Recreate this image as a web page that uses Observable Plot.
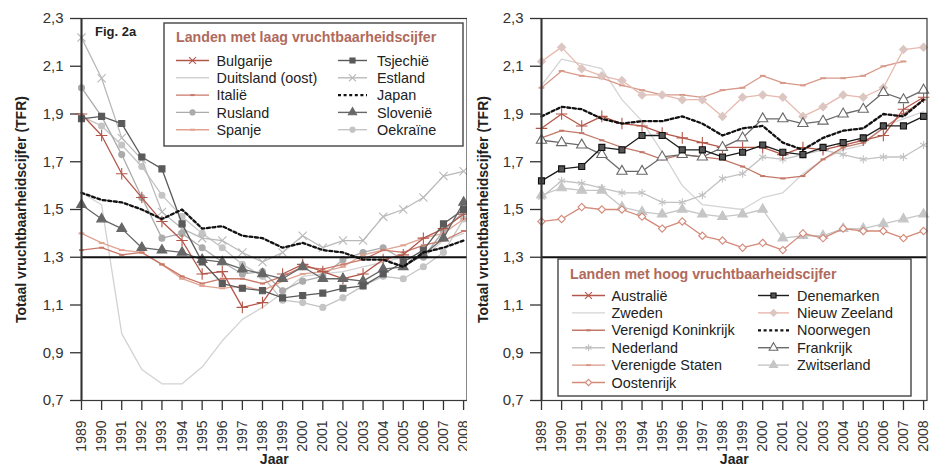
<!DOCTYPE html>
<html><head><meta charset="utf-8">
<script src="https://cdn.jsdelivr.net/npm/d3@7"></script>
<script src="https://cdn.jsdelivr.net/npm/@observablehq/plot@0.6"></script>
<style>
body{margin:0;background:#fff;}
#wrap{position:relative;width:934px;height:468px;overflow:hidden;font-family:"Liberation Sans",Arial,sans-serif;background:#fff;}
.panel{position:absolute;top:0;}
#overlay{position:absolute;left:0;top:0;pointer-events:none;}
</style></head><body><div id="wrap"></div>
<script>
// ---------- data ----------
const years = [1989,1990,1991,1992,1993,1994,1995,1996,1997,1998,1999,2000,2001,2002,2003,2004,2005,2006,2007,2008];
const yTicks = [0.7,0.9,1.1,1.3,1.5,1.7,1.9,2.1,2.3];
const threshold = [1.3];

// Landen met laag vruchtbaarheidscijfer
const bulgarije     = [1.90,1.81,1.65,1.55,1.45,1.37,1.23,1.24,1.09,1.11,1.23,1.27,1.24,1.21,1.23,1.29,1.31,1.38,1.42,1.48];
const duitslandOost = [1.57,1.52,0.98,0.83,0.77,0.77,0.84,0.95,1.04,1.09,1.15,1.22,1.23,1.24,1.26,1.28,1.30,1.30,1.37,1.40];
const italie        = [1.33,1.34,1.31,1.32,1.27,1.22,1.19,1.21,1.21,1.19,1.22,1.26,1.25,1.27,1.29,1.33,1.32,1.35,1.37,1.41];
const rusland       = [2.01,1.89,1.73,1.55,1.38,1.40,1.34,1.28,1.23,1.24,1.16,1.20,1.22,1.29,1.32,1.34,1.29,1.30,1.41,1.49];
const spanje        = [1.40,1.36,1.33,1.32,1.27,1.21,1.18,1.17,1.18,1.16,1.20,1.23,1.24,1.26,1.31,1.33,1.35,1.38,1.40,1.46];
const tsjechie      = [1.88,1.89,1.86,1.72,1.67,1.44,1.28,1.19,1.17,1.16,1.13,1.14,1.15,1.17,1.18,1.23,1.28,1.33,1.44,1.50];
const estland       = [2.22,2.05,1.80,1.71,1.49,1.42,1.38,1.37,1.32,1.28,1.32,1.39,1.34,1.37,1.37,1.47,1.50,1.55,1.64,1.66];
const japan         = [1.57,1.54,1.53,1.50,1.46,1.50,1.42,1.43,1.39,1.38,1.34,1.36,1.33,1.32,1.29,1.29,1.26,1.32,1.34,1.37];
const slovenie      = [1.52,1.46,1.42,1.34,1.33,1.32,1.29,1.28,1.25,1.23,1.21,1.26,1.21,1.21,1.20,1.25,1.26,1.31,1.38,1.53];
const oekraine      = [1.89,1.85,1.77,1.68,1.56,1.47,1.40,1.34,1.27,1.22,1.12,1.11,1.09,1.13,1.18,1.22,1.21,1.26,1.32,1.46];

// Landen met hoog vruchtbaarheidscijfer
const australie     = [1.84,1.90,1.85,1.89,1.86,1.85,1.82,1.80,1.78,1.76,1.76,1.76,1.73,1.76,1.75,1.77,1.79,1.81,1.92,1.97];
const zweden        = [2.02,2.13,2.11,2.09,1.96,1.87,1.74,1.60,1.52,1.51,1.50,1.55,1.57,1.65,1.71,1.75,1.77,1.85,1.88,1.91];
const verenigdKon   = [1.80,1.83,1.82,1.79,1.76,1.74,1.71,1.73,1.72,1.71,1.68,1.64,1.63,1.64,1.71,1.76,1.78,1.84,1.90,1.96];
const nederland     = [1.55,1.62,1.61,1.59,1.57,1.57,1.53,1.53,1.56,1.63,1.65,1.72,1.71,1.73,1.75,1.73,1.71,1.72,1.72,1.77];
const verenigdeSt   = [2.01,2.08,2.06,2.05,2.02,2.00,1.98,1.98,1.97,2.00,2.01,2.06,2.03,2.02,2.05,2.05,2.06,2.10,2.12,null];
const oostenrijk    = [1.45,1.46,1.51,1.50,1.50,1.47,1.42,1.45,1.39,1.37,1.34,1.36,1.33,1.40,1.38,1.42,1.41,1.41,1.38,1.41];
const denemarken    = [1.62,1.67,1.68,1.76,1.75,1.81,1.81,1.75,1.75,1.72,1.74,1.77,1.74,1.73,1.76,1.78,1.80,1.85,1.85,1.89];
const nieuwZeeland  = [2.12,2.18,2.09,2.06,2.04,1.98,1.98,1.96,1.96,1.89,1.97,1.98,1.97,1.89,1.93,1.98,1.97,2.01,2.17,2.18];
const noorwegen     = [1.89,1.93,1.92,1.88,1.86,1.87,1.87,1.89,1.86,1.81,1.84,1.85,1.78,1.75,1.80,1.83,1.84,1.90,1.89,1.96];
const frankrijk     = [1.79,1.78,1.77,1.73,1.66,1.66,1.72,1.73,1.72,1.76,1.80,1.88,1.88,1.86,1.87,1.90,1.92,1.99,1.96,2.00];
const zwitserland   = [1.56,1.59,1.58,1.58,1.51,1.49,1.48,1.50,1.48,1.47,1.48,1.50,1.38,1.39,1.39,1.42,1.42,1.44,1.46,1.48];

// ---------- styles ----------
const dash = {draw(ctx, size){const r=Math.sqrt(size/Math.PI)*0.9; ctx.moveTo(-r,0); ctx.lineTo(r,0);}};
const symMap = {plus:d3.symbolPlus, times:d3.symbolTimes, circle:d3.symbolCircle, square:d3.symbolSquare,
  triangle:d3.symbolTriangle, diamond2:d3.symbolDiamond2, asterisk:d3.symbolAsterisk, dash};

const lowSeries = [
  {name:"Duitsland (oost)", values:duitslandOost, color:"#d2d2d2"},
  {name:"Oekraïne", values:oekraine, color:"#c4c4c4", symbol:"circle", r:3.0, fill:"#c4c4c4"},
  {name:"Estland", values:estland, color:"#b9b9b9", symbol:"times", r:3.8, fill:"none"},
  {name:"Rusland", values:rusland, color:"#ababab", symbol:"circle", r:3.0, fill:"#ababab"},
  {name:"Spanje", values:spanje, color:"#e0a392", symbol:dash, r:3.2, fill:"none", sw:2, legendSymbol:"dash"},
  {name:"Italië", values:italie, color:"#c9796a", symbol:dash, r:2.8, fill:"none", sw:2, legendSymbol:"dash"},
  {name:"Bulgarije", values:bulgarije, color:"#b4574b", symbol:"plus", r:3.8, fill:"none", legendSymbol:"times"},
  {name:"Slovenië", values:slovenie, color:"#676767", symbol:"triangle", r:3.6, fill:"#676767"},
  {name:"Tsjechië", values:tsjechie, color:"#5a5a5a", symbol:"square", r:3.4, fill:"#5a5a5a"},
  {name:"Japan", values:japan, color:"#111", width:2.3, dashArray:"3,2.6"}
];
const highSeries = [
  {name:"Zweden", values:zweden, color:"#d4d4d4"},
  {name:"Zwitserland", values:zwitserland, color:"#c6c6c6", symbol:"triangle", r:3.6, fill:"#c6c6c6"},
  {name:"Nederland", values:nederland, color:"#c2c2c2", symbol:"asterisk", r:3.8, fill:"none"},
  {name:"Oostenrijk", values:oostenrijk, color:"#d38a7a", symbol:"diamond2", r:3.3, fill:"white"},
  {name:"Verenigde Staten", values:verenigdeSt, color:"#d89a8a", symbol:dash, r:3.2, fill:"none", sw:2, legendSymbol:"dash"},
  {name:"Nieuw Zeeland", values:nieuwZeeland, color:"#e8b8ad", symbol:"diamond2", r:3.6, fill:"#dcc6c2", stroke:"#dcc6c2"},
  {name:"Verenigd Koninkrijk", values:verenigdKon, color:"#c27969", symbol:dash, r:2.8, fill:"none", sw:2, legendSymbol:"dash"},
  {name:"Australië", values:australie, color:"#b4574b", symbol:"plus", r:3.8, fill:"none", legendSymbol:"times"},
  {name:"Frankrijk", values:frankrijk, color:"#6a6a6a", symbol:"triangle", r:3.8, fill:"white"},
  {name:"Noorwegen", values:noorwegen, color:"#111", width:2.3, dashArray:"3,2.6"},
  {name:"Denemarken", values:denemarken, color:"#1c1c1c", symbol:"square", r:3.4, fill:"#555", stroke:"#111"}
];

const fmt = d => d.toFixed(1).replace(".", ",");

function panel(series, opt) {
  const marks = [];
  for (const s of series) {
    const rows = years.map((year, i) => ({year, value: s.values[i]})).filter(d => d.value != null);
    marks.push(Plot.line(rows, {x:"year", y:"value", stroke:s.color, strokeWidth:s.width ?? 1.3, strokeDasharray:s.dashArray}));
    if (s.symbol) marks.push(Plot.dot(rows, {x:"year", y:"value", symbol:s.symbol, r:s.r, fill:s.fill, stroke:s.stroke ?? s.color, strokeWidth:s.sw ?? 1.1}));
  }
  marks.push(Plot.ruleY(threshold, {stroke:"#111", strokeWidth:2}));
  marks.push(Plot.frame({stroke:"#3a3a3a", strokeWidth:1.2}));
  marks.push(Plot.ruleX([d3.min(years)], {stroke:"#333", strokeWidth:2}));
  const svg = Plot.plot({
    width: opt.width, height: 468,
    marginLeft: opt.marginLeft, marginRight: opt.marginRight, marginTop: 18, marginBottom: 68,
    style: {fontFamily:"Liberation Sans, Arial, sans-serif", fontSize:"14px", color:"#333", background:"white", overflow:"visible"},
    x: {domain:[1989, 2008.17], ticks:years, tickFormat:d => String(d), tickRotate:-90, tickSize:10, tickPadding:10,
        label:"Jaar", labelAnchor:"center", labelOffset:63, labelArrow:false},
    y: {domain:[0.7, 2.3], ticks:yTicks, tickFormat:fmt, tickSize:11, tickPadding:7,
        label:"Totaal vruchtbaarheidscijfer (TFR)", labelAnchor:"center", labelOffset:opt.labelOffset, labelArrow:false},
    marks
  });
  const s = d3.select(svg);
  s.selectAll('g[aria-label="y-axis tick label"]').attr("font-size", 15);
  s.selectAll('g[aria-label="x-axis tick label"]').attr("font-size", 14);
  s.selectAll('g[aria-label="y-axis label"], g[aria-label="x-axis label"]').attr("font-weight", "bold").attr("font-size", 14).attr("fill", "#222");
  s.selectAll('g[aria-label="y-axis tick"], g[aria-label="x-axis tick"]').attr("stroke", "#333").attr("stroke-width", 1.3);
  svg.classList.add("panel");
  svg.style.left = opt.left + "px";
  return svg;
}

const wrap = document.getElementById("wrap");
wrap.appendChild(panel(lowSeries, {left:0, width:468, marginLeft:81, marginRight:1.5, labelOffset:65}));
wrap.appendChild(panel(highSeries, {left:467, width:467, marginLeft:74, marginRight:7.5, labelOffset:63}));

// ---------- legends ----------
const ov = d3.select(wrap).append("svg").attr("id","overlay").attr("width",934).attr("height",468)
  .attr("font-family","Liberation Sans, Arial, sans-serif");

ov.append("text").attr("x",95).attr("y",36).attr("font-size",13).attr("font-weight","bold").attr("fill","#222").text("Fig. 2a");

function legend(cfg) {
  const byName = new Map(cfg.series.map(s => [s.name, s]));
  ov.append("rect").attr("x",cfg.x).attr("y",cfg.y).attr("width",cfg.w).attr("height",cfg.h)
    .attr("fill","white").attr("stroke","#444").attr("stroke-width",1.4);
  ov.append("text").attr("x",cfg.titleX).attr("y",cfg.titleY).attr("font-size",14.2).attr("font-weight","bold")
    .attr("fill","#b06a5c").text(cfg.title);
  cfg.columns.forEach((col, ci) => {
    col.forEach((name, ri) => {
      const s = byName.get(name);
      const cy = cfg.row0 + ri * cfg.rowStep;
      const [x0, x1, lx] = cfg.colX[ci];
      ov.append("line").attr("x1",x0).attr("x2",x1).attr("y1",cy).attr("y2",cy)
        .attr("stroke",s.color).attr("stroke-width",s.width ?? 1.4).attr("stroke-dasharray",s.dashArray ?? null);
      if (s.symbol) {
        const key = s.legendSymbol ?? s.symbol;
        const type = typeof key === "string" ? symMap[key] : key;
        const r = (s.r) * 0.85;
        ov.append("path").attr("d", d3.symbol(type, Math.PI * r * r)())
          .attr("transform",`translate(${(x0+x1)/2},${cy})`)
          .attr("fill", s.fill).attr("stroke", s.stroke ?? s.color).attr("stroke-width", s.sw ?? 1.1);
      }
      ov.append("text").attr("x",lx).attr("y",cy).attr("dy","0.36em").attr("font-size",14.4).attr("fill","#222").text(name);
    });
  });
}

legend({series: lowSeries, x:164, y:23, w:299, h:123, title:"Landen met laag vruchtbaarheidscijfer", titleX:176, titleY:42,
  row0:60.5, rowStep:17.3, colX:[[176,209,216.5],[338,367,377]],
  columns:[["Bulgarije","Duitsland (oost)","Italië","Rusland","Spanje"],["Tsjechië","Estland","Japan","Slovenië","Oekraïne"]]});

legend({series: highSeries, x:558, y:259, w:353, h:137, title:"Landen met hoog vruchtbaarheidscijfer", titleX:570, titleY:279,
  row0:295.5, rowStep:17.4, colX:[[572,605,611.5],[758,789,797]],
  columns:[["Australië","Zweden","Verenigd Koninkrijk","Nederland","Verenigde Staten","Oostenrijk"],
           ["Denemarken","Nieuw Zeeland","Noorwegen","Frankrijk","Zwitserland"]]});
</script></body></html>
